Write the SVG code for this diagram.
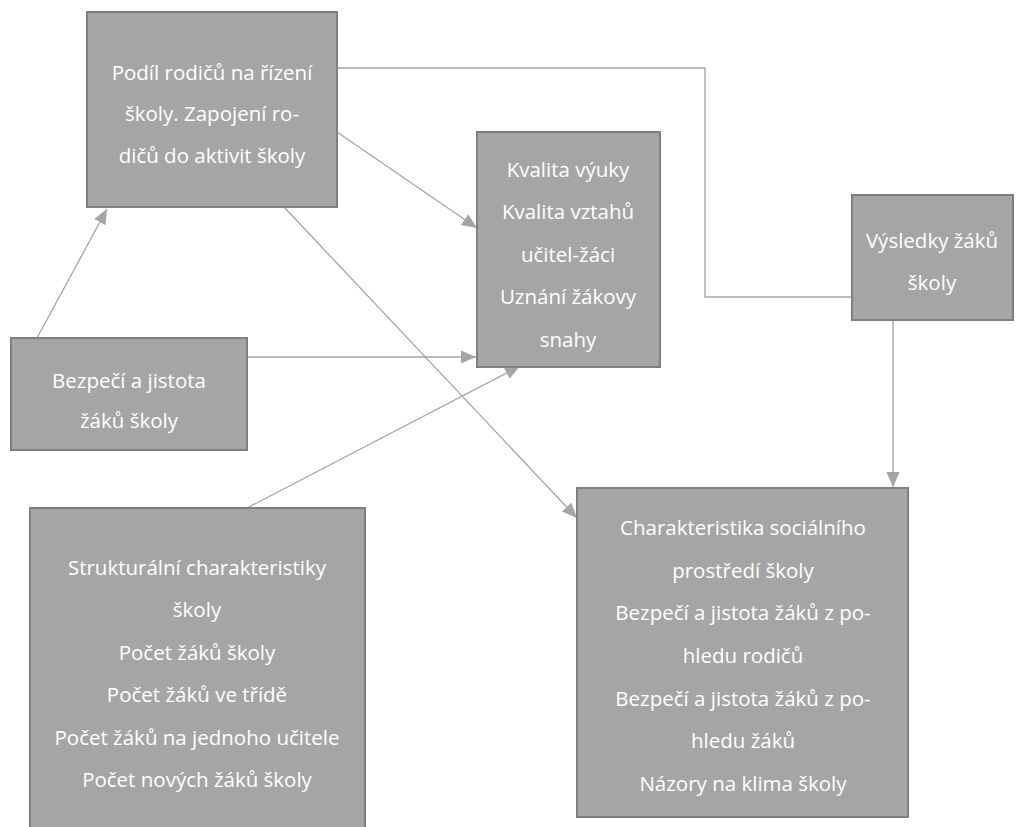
<svg xmlns="http://www.w3.org/2000/svg" width="1021" height="827" viewBox="0 0 1021 827">
<style>
.box{fill:#a5a5a5;stroke:#7f7f7f;stroke-width:2}
.t{font-family:"Open Sans",Lato,"Liberation Sans",sans-serif;font-size:20.5px;fill:#ffffff;text-anchor:middle}
.c{fill:none;stroke:#a5a5a5;stroke-width:1.3}
</style>
<defs>
<marker id="ar" viewBox="0 0 15 13" refX="15" refY="6.5" markerWidth="15" markerHeight="13" markerUnits="userSpaceOnUse" orient="auto">
<path d="M0,0 L15,6.5 L0,13 Z" fill="#a5a5a5"/>
</marker>
</defs>
<rect width="1021" height="827" fill="#ffffff"/>
<g id="connectors">
<polyline class="c" points="337,68 705,68 705,297 852,297"/>
<line class="c" x1="337" y1="132" x2="477" y2="228" marker-end="url(#ar)"/>
<line class="c" x1="284" y1="207" x2="577" y2="518" marker-end="url(#ar)"/>
<line class="c" x1="37" y1="338" x2="107" y2="209" marker-end="url(#ar)"/>
<line class="c" x1="247" y1="357" x2="476" y2="357" marker-end="url(#ar)"/>
<line class="c" x1="247" y1="508" x2="520" y2="366" marker-end="url(#ar)"/>
<line class="c" x1="893" y1="320" x2="893" y2="487" marker-end="url(#ar)"/>
</g>
<g id="n-podil">
<rect class="box" x="87" y="12" width="250" height="195"/>
<text class="t" x="212" y="80">Podíl rodičů na řízení</text>
<text class="t" x="212" y="121">školy. Zapojení ro-</text>
<text class="t" x="212" y="163">dičů do aktivit školy</text>
</g>
<g id="n-kvalita">
<rect class="box" x="477" y="132" width="183" height="235"/>
<text class="t" x="568" y="177">Kvalita výuky</text>
<text class="t" x="568" y="219">Kvalita vztahů</text>
<text class="t" x="568" y="262">učitel-žáci</text>
<text class="t" x="568" y="304">Uznání žákovy</text>
<text class="t" x="568" y="347">snahy</text>
</g>
<g id="n-vysledky">
<rect class="box" x="852" y="195" width="161" height="125"/>
<text class="t" x="932" y="248">Výsledky žáků</text>
<text class="t" x="932" y="290">školy</text>
</g>
<g id="n-bezpeci">
<rect class="box" x="11" y="338" width="236" height="112"/>
<text class="t" x="129" y="388">Bezpečí a jistota</text>
<text class="t" x="129" y="428">žáků školy</text>
</g>
<g id="n-strukturalni">
<rect class="box" x="30" y="508" width="335" height="330"/>
<text class="t" x="197" y="575">Strukturální charakteristiky</text>
<text class="t" x="197" y="617">školy</text>
<text class="t" x="197" y="660">Počet žáků školy</text>
<text class="t" x="197" y="702">Počet žáků ve třídě</text>
<text class="t" x="197" y="745">Počet žáků na jednoho učitele</text>
<text class="t" x="197" y="787">Počet nových žáků školy</text>
</g>
<g id="n-charakteristika">
<rect class="box" x="577" y="488" width="331" height="329"/>
<text class="t" x="743" y="535">Charakteristika sociálního</text>
<text class="t" x="743" y="578">prostředí školy</text>
<text class="t" x="743" y="620">Bezpečí a jistota žáků z po-</text>
<text class="t" x="743" y="663">hledu rodičů</text>
<text class="t" x="743" y="706">Bezpečí a jistota žáků z po-</text>
<text class="t" x="743" y="748">hledu žáků</text>
<text class="t" x="743" y="791">Názory na klima školy</text>
</g>
</svg>
